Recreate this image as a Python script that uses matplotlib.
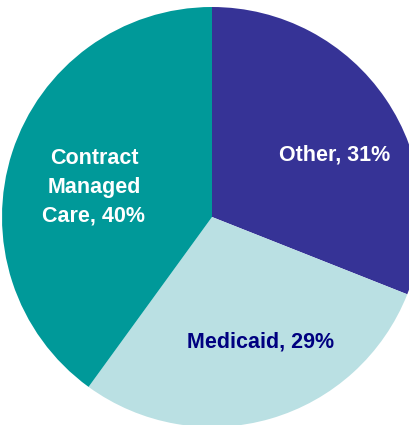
import matplotlib.pyplot as plt

labels = ["Other", "Medicaid", "Contract\nManaged\nCare"]
shares = [31, 29, 40]
colors = ["#363396", "#BAE0E3", "#009999"]
text_colors = ["white", "#000080", "white"]

# label anchor points, in pixels from the top-left of the image
label_pos = [(335, 155), (261, 342), (94, 187)]

fig = plt.figure(figsize=(4.10, 4.25), dpi=100)
ax = fig.add_axes([0, 0, 1, 1])

ax.pie(shares, colors=colors, startangle=90, counterclock=False,
       radius=210, center=(212, 425 - 217), frame=True)
ax.set_xlim(0, 410)
ax.set_ylim(0, 425)
ax.set_aspect("equal")
ax.axis("off")

for name, pct, col, (x, y) in zip(labels, shares, text_colors, label_pos):
    ax.text(x, 425 - y, f"{name}, {pct}%", color=col, fontsize=15.5,
            fontweight="bold", family="Liberation Sans",
            ha="center", va="center", linespacing=1.5)

fig.savefig("out.png", dpi=100)
